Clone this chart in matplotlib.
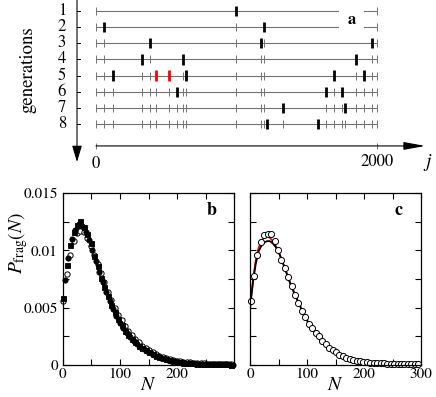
import numpy as np
import matplotlib
matplotlib.use('Agg')
import matplotlib.pyplot as plt
from matplotlib.patches import Rectangle

plt.rcParams['font.family'] = ['STIXGeneral', 'DejaVu Serif']
plt.rcParams['mathtext.fontset'] = 'stix'

# panel a: cut positions j for each generation
generations = [1, 2, 3, 4, 5, 6, 7, 8]
cuts = [
    [1000],
    [59, 1196],
    [386, 1174, 1964],
    [330, 619, 1851],
    [119, 425, 522, 640, 1694, 1907],
    [577, 1637, 1753],
    [1329, 1772],
    [1217, 1582],
]
red_cuts = [425, 522]     # highlighted cuts in generation 5
j_max = 2000

# panel b
N_b1 = np.arange(1, 300, 6)
sq_b = [0.0058, 0.0087, 0.0105, 0.0116, 0.0122, 0.0126, 0.0120, 0.0114, 0.0106, 0.0095,
        0.0086, 0.0076, 0.0068, 0.0060, 0.0052, 0.0046, 0.0040, 0.0035, 0.0030, 0.0026,
        0.0023, 0.0020, 0.0017, 0.0015, 0.0013, 0.0011, 0.00095, 0.0008, 0.00068, 0.00057,
        0.00048, 0.0004, 0.00034, 0.00029, 0.00025, 0.00021, 0.00018, 0.00016, 0.00014, 0.00012,
        0.00011, 0.0001, 0.00009, 0.00008, 0.00007, 0.00006, 0.00006, 0.00005, 0.00005, 0.00004]
N_b2 = np.arange(4, 300, 6)
fc_b = [0.0074, 0.0093, 0.0110, 0.0118, 0.0123, 0.0121, 0.0116, 0.0109, 0.0100, 0.0091,
        0.0081, 0.0072, 0.0064, 0.0056, 0.0049, 0.0043, 0.0037, 0.0032, 0.0028, 0.0024,
        0.0021, 0.0018, 0.0016, 0.0014, 0.0012, 0.00105, 0.0009, 0.00076, 0.00064, 0.00054,
        0.00046, 0.00039, 0.00033, 0.00028, 0.00024, 0.0002, 0.00018, 0.00015, 0.00013, 0.00012,
        0.0001, 0.00009, 0.00008, 0.00007, 0.00007, 0.00006, 0.00005, 0.00005, 0.00004, 0.00004]
oc_b = [0.0056, 0.0079, 0.0096, 0.0108, 0.0115, 0.0117, 0.0116, 0.0111, 0.0104, 0.0096,
        0.0088, 0.0080, 0.0072, 0.0064, 0.0057, 0.0050, 0.0044, 0.0039, 0.0034, 0.0030,
        0.0026, 0.0023, 0.0020, 0.0017, 0.0015, 0.0013, 0.0011, 0.00095, 0.00082, 0.0007,
        0.0006, 0.00052, 0.00045, 0.00039, 0.00034, 0.00029, 0.00025, 0.00022, 0.0002, 0.00018,
        0.00016, 0.00014, 0.00013, 0.00012, 0.00011, 0.0001, 0.00009, 0.00008, 0.00008, 0.00007]

# panel c
N_c = np.arange(1, 300, 6)
oc_c = [0.0056, 0.0078, 0.0096, 0.0107, 0.0113, 0.0114, 0.0114, 0.0108, 0.0100, 0.0092,
        0.0085, 0.0077, 0.0069, 0.0061, 0.0054, 0.0047, 0.0042, 0.0036, 0.0032, 0.0028,
        0.0025, 0.0021, 0.0018, 0.0015, 0.0013, 0.0011, 0.0009, 0.00075, 0.00063, 0.00052,
        0.00044, 0.00037, 0.00031, 0.00027, 0.00024, 0.00021, 0.00019, 0.00017, 0.00015, 0.00014,
        0.00013, 0.00012, 0.00011, 0.0001, 0.00009, 0.00008, 0.00007, 0.00006, 0.00006, 0.00005]
N_fit = [0, 3, 6, 10, 15, 20, 25, 30, 35, 40, 45, 50, 60, 70, 80, 90, 100, 110, 120, 130,
         140, 150, 160, 170, 180, 190, 200, 220, 240, 260, 280, 300]
fit_black = [0.0049, 0.0063, 0.0075, 0.0088, 0.0099, 0.0104, 0.0107, 0.0108, 0.0108, 0.0106,
             0.0103, 0.0099, 0.0086, 0.0072, 0.0060, 0.0049, 0.0039, 0.0031, 0.0024, 0.0019,
             0.0015, 0.0011, 0.00085, 0.00065, 0.0005, 0.00038, 0.00029, 0.00017, 0.0001,
             0.00006, 0.00004, 0.00002]
fit_red = [0.0049, 0.0064, 0.0077, 0.0091, 0.0102, 0.0108, 0.0111, 0.0112, 0.0111, 0.0108,
           0.0104, 0.0099, 0.0086, 0.0072, 0.0060, 0.0049, 0.0039, 0.0031, 0.0024, 0.0019,
           0.0015, 0.0011, 0.00085, 0.00065, 0.0005, 0.00038, 0.00029, 0.00017, 0.0001,
           0.00006, 0.00004, 0.00002]

fig = plt.figure(figsize=(4.36, 3.97), dpi=100)

# ---- panel a ----
ax = fig.add_axes([0, 1 - 175 / 397, 1, 175 / 397])
ax.set_xlim(-683, 2420)
ax.set_ylim(11.161, 0.318)
ax.axis('off')

line_col = '0.45'
previous = [0, j_max]
for g, new in zip(generations, cuts):
    ax.plot([0, j_max], [g, g], color=line_col, lw=0.8, zorder=1)
    ax.vlines(previous, g - 0.25, g + 0.25, color=line_col, lw=0.7, zorder=2)
    for c in new:
        col = 'red' if (g == 5 and c in red_cuts) else 'black'
        ax.vlines(c, g - 0.32, g + 0.32, color=col, lw=2.0, zorder=3)
    previous = previous + new
    ax.text(-242, g, str(g), ha='center', va='center', fontsize=12)
    ax.plot([-135, -114], [g, g], color='black', lw=0.7)

base = generations[-1] + 1.36
ax.annotate('', xy=(2342, base), xytext=(0, base),
            arrowprops=dict(arrowstyle='-|>,head_length=0.65,head_width=0.12',
                            mutation_scale=20, color='black', lw=0.8, shrinkA=0, shrinkB=0))
ax.vlines([0, j_max], base - 0.2, base + 0.2, color=line_col, lw=0.7)
ax.annotate('', xy=(-135, 10.36), xytext=(-135, 0.3),
            arrowprops=dict(arrowstyle='-|>,head_length=0.5,head_width=0.15',
                            mutation_scale=20, color='black', lw=0.8, shrinkA=0, shrinkB=0))
ax.text(0, 10.48, '0', ha='center', va='center', fontsize=12)
ax.text(j_max, 10.36, '2000', ha='center', va='center', fontsize=12)
ax.text(2365, 10.4, '$j$', ha='center', va='center', fontsize=14)
ax.text(-484, 4.66, 'generations', rotation=90, ha='center', va='center', fontsize=13.5)
ax.add_patch(Rectangle((1730, 0.6), 177, 1.75, facecolor='white', edgecolor='none', zorder=4))
ax.text(1819, 1.55, 'a', ha='center', va='center', fontsize=12, fontweight='bold', zorder=5)


def style_axes(a):
    a.set_xlim(0, 300)
    a.set_ylim(0, 0.015)
    a.set_xticks([0, 100, 200, 300])
    a.set_xticks([50, 150, 250], minor=True)
    a.set_yticks([0, 0.005, 0.01, 0.015])
    a.set_yticks([0.0025, 0.0075, 0.0125], minor=True)
    a.tick_params(which='both', direction='in', top=True, right=True,
                  length=4, width=0.8, labelsize=11)
    a.tick_params(axis='x', pad=2)
    for s in a.spines.values():
        s.set_linewidth(0.9)
    a.set_xlabel('$N$', fontsize=14, labelpad=-3)


# ---- panel b ----
axb = fig.add_axes([62.7 / 436, 32 / 397, 171.6 / 436, 172 / 397])
style_axes(axb)
axb.set_xticklabels(['0', '100', '200', ''])
axb.set_yticklabels(['0', '0.005', '0.01', '0.015'])
axb.plot(N_b1, oc_b, 'o', ms=3.8, mfc='white', mec='black', mew=0.7, clip_on=False, zorder=2)
axb.plot(N_b2, fc_b, 'o', ms=3.8, mfc='black', mec='black', mew=0.6, clip_on=False, zorder=3)
axb.plot(N_b1, sq_b, 's', ms=3.6, mfc='black', mec='black', mew=0.6, clip_on=False, zorder=3)
axb.set_ylabel(r'$P_{\rm frag}(N)$', fontsize=14)
axb.yaxis.set_label_coords(-0.19, 0.71)
axb.text(0.87, 0.9, 'b', transform=axb.transAxes, ha='center', va='center',
         fontsize=13, fontweight='bold')

# ---- panel c ----
axc = fig.add_axes([250 / 436, 32 / 397, 171 / 436, 172 / 397])
style_axes(axc)
axc.set_yticklabels([])
axc.plot(N_fit, fit_red, color='red', lw=1.3)
axc.plot(N_fit, fit_black, color='black', lw=1.3)
axc.plot(N_c, oc_c, 'o', ms=4.4, mfc='white', mec='black', mew=0.7, clip_on=False)
axc.text(0.87, 0.9, 'c', transform=axc.transAxes, ha='center', va='center',
         fontsize=13, fontweight='bold')

fig.savefig('out.png', dpi=100)
